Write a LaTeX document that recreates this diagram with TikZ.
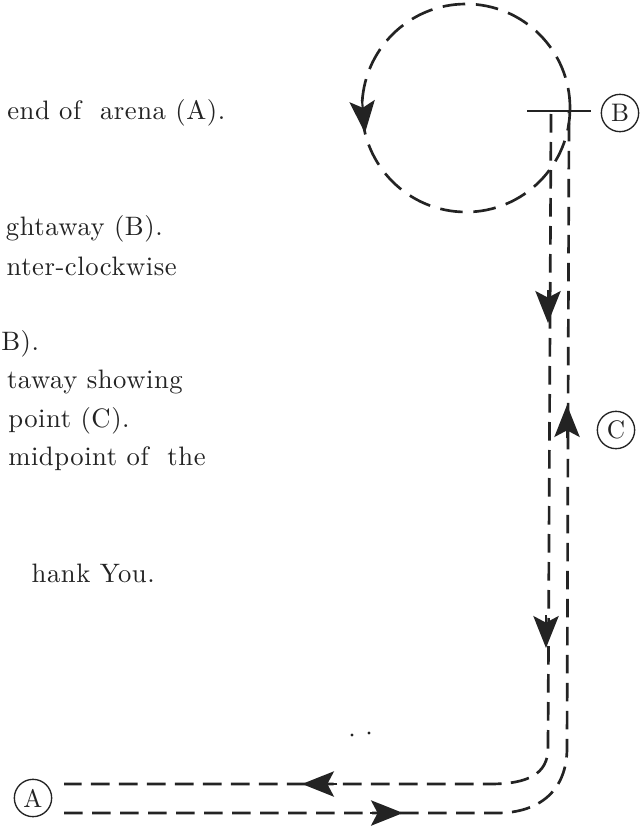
\documentclass[tikz,border=0pt]{standalone}
\usepackage{fontspec}
\usetikzlibrary{arrows.meta}
\newfontfamily\bodyfont{lmroman10-regular.otf}[LetterSpace=2]
\newcommand\txtfont{\bodyfont\fontsize{20}{24}\selectfont}
\newcommand\lblfont{\bodyfont\fontsize{19}{19}\selectfont}
\definecolor{ink}{RGB}{35,35,35}
\begin{document}
\begin{tikzpicture}[x=0.75pt,y=-0.75pt,
  trk/.style={draw=ink,line width=2pt,dash pattern=on 14pt off 7pt},
  loopd/.style={draw=ink,line width=2pt,dash pattern=on 17pt off 8pt},
  tipa/.style={draw=ink,fill=ink,line width=1.6pt,-{Stealth[length=24pt,width=19pt,inset=5pt]}},
  lbl/.style={circle,draw=ink,text=ink,line width=1pt,minimum size=28pt,inner sep=0pt,font=\lblfont},
  txt/.style={inner sep=0pt,text=ink,font=\txtfont}]
\useasboundingbox (0,0) rectangle (640,831);
\fill[white] (0,0) rectangle (640,831);
% text
\node[txt,anchor=base west] (t1) at (7,120) {end of\ \ arena (A).};
\node[txt,anchor=base east] (t2) at (163,235) {ghtaway (B).};
\node[txt,anchor=base east] (t3) at (177,275) {nter-clockwise};
\node[txt,anchor=base west] (t4) at (1,350) {B).};
\node[txt,anchor=base east] (t5) at (183,388) {taway showing};
\node[txt,anchor=base west] (t6) at (8,427) {point (C).};
\node[txt,anchor=base west] (t7) at (8,465) {midpoint of\ \ the};
\node[txt,anchor=base east] (t8) at (155,582) {hank You.};
% labels
\node[lbl] (A) at (33,798) {A};
\node[lbl] (B) at (620,113) {B};
\node[lbl] (C) at (616,430) {C};
% loop
\draw[loopd] (466,108) circle[radius=104];
% crossbar at B
\coordinate (barL) at (527,111);
\coordinate (barR) at (591,111);
\draw[ink,line width=2pt] (barL) -- (barR);
% tracks
\coordinate (oS) at (64,813);
\coordinate (oE) at (569,112);
\coordinate (iS) at (551,114);
\coordinate (iE) at (64,784);
\draw[trk] (oS) -- (497,813) .. controls (540,813) and (567,790) .. (567,748) -- (oE);
\draw[trk] (iS) -- (548,748) .. controls (548,774) and (528,784) .. (490,784) -- (iE);
% arrowheads
\draw[tipa] (548,290) -- (548,323);
\draw[tipa] (567,438) -- (567,405);
\draw[tipa] (546,615) -- (546,648);
\draw[tipa] (337,784) -- (302,784);
\draw[tipa] (370,813) -- (403,813);
\draw[tipa] (362,100) -- (365,133);
% specks
\fill[ink] (352,735) circle[radius=1.6];
\fill[ink] (369,733) circle[radius=1.6];
\end{tikzpicture}
\end{document}
